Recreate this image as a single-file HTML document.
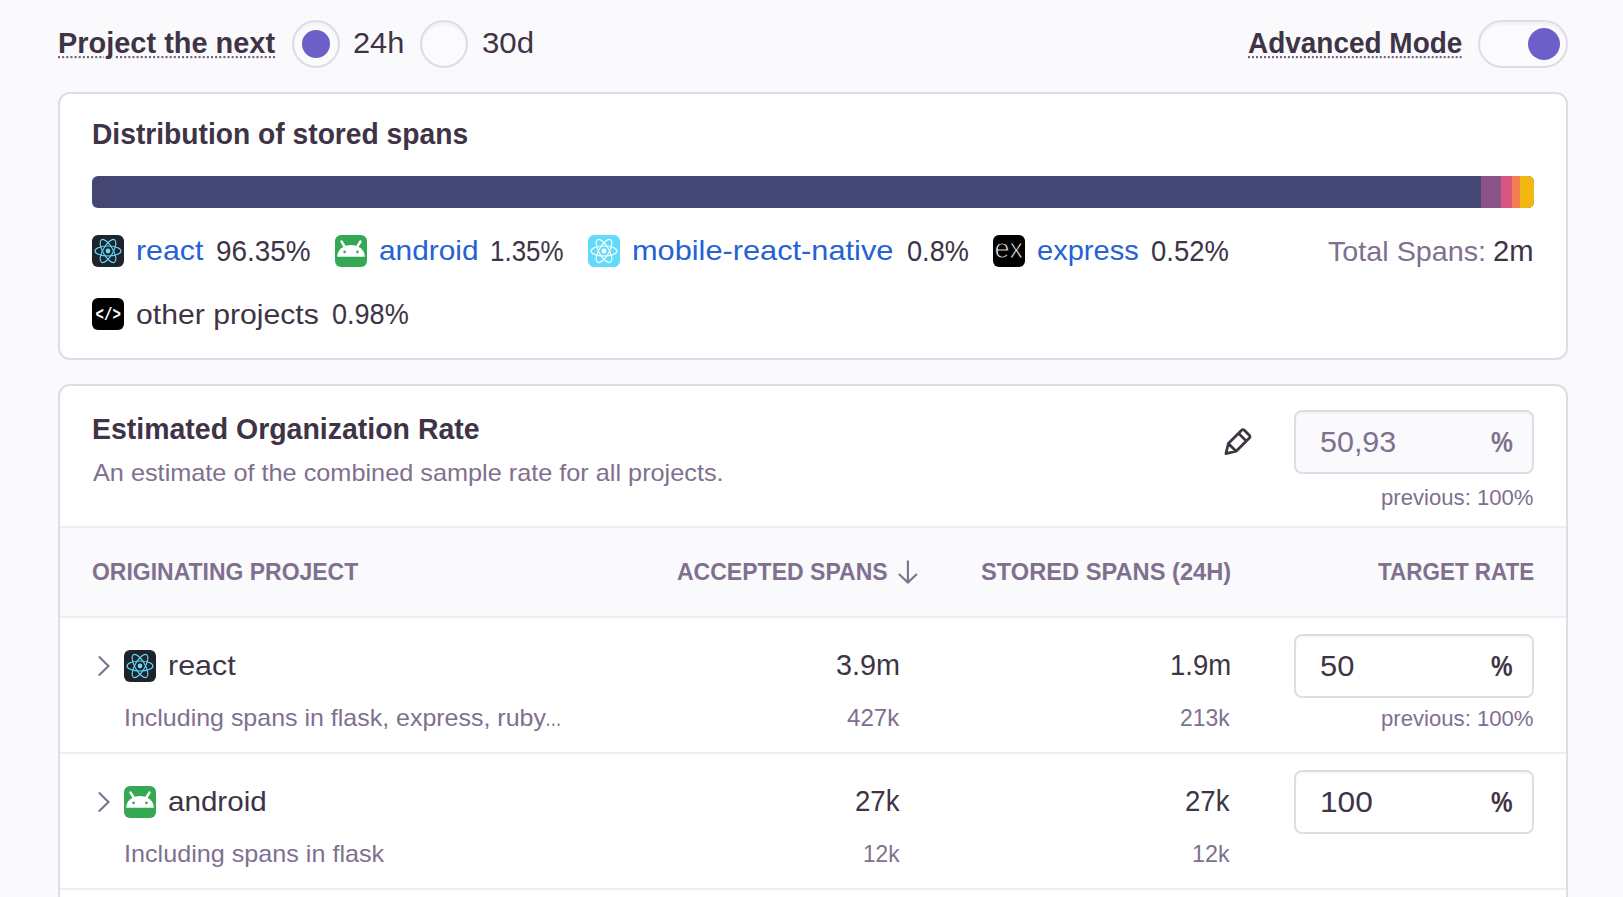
<!DOCTYPE html>
<html lang="en">
<head>
<meta charset="utf-8">
<title>Dynamic Sampling</title>
<style>
html,body{margin:0;padding:0;}
body{width:1623px;height:897px;overflow:hidden;position:relative;background:#faf9fb;font-family:"Liberation Sans",sans-serif;}
.abs,.t,.panel,.radio,.switch,.bar,.icon,.input,.thead,.rowline{position:absolute;box-sizing:border-box;}
.t{white-space:nowrap;line-height:1;transform-origin:0 0;}
.u{text-decoration:underline dotted;text-decoration-thickness:2px;text-underline-offset:3px;text-decoration-color:#6b5a7d;}
.panel{left:58px;width:1510px;border:2px solid #e0dce5;border-radius:12px;background:#fff;}
.radio{top:20px;width:48px;height:48px;border-radius:50%;border:2px solid #e0dce5;background:#fbfafc;box-shadow:inset 0 3px 2px rgba(43,34,51,.035);}
.radio i{position:absolute;left:8px;top:8px;width:28px;height:28px;border-radius:50%;background:#6c5fc7;}
.switch{left:1478px;top:20px;width:90px;height:48px;border-radius:24px;border:2px solid #e0dce5;background:#fbfafc;box-shadow:inset 0 3px 2px rgba(43,34,51,.035);}
.switch i{position:absolute;left:48px;top:6px;width:32px;height:32px;border-radius:50%;background:#6c5fc7;}
.bar{left:92px;top:176px;width:1442px;height:32px;border-radius:6px;overflow:hidden;background:#444674;}
.bar b{position:absolute;top:0;height:32px;}
.icon{width:32px;height:32px;border-radius:6px;overflow:hidden;}
.icon svg{display:block;}
.input{left:1294px;width:240px;height:64px;border:2px solid #e0dce5;border-radius:8px;background:#fff;box-shadow:inset 0 2px 2px rgba(43,34,51,.03);}
.input.dis{background:#faf9fb;}
.thead{left:60px;top:526px;width:1506px;height:92px;background:#faf9fb;border-top:2px solid #f0ecf3;border-bottom:2px solid #f0ecf3;}
.rowline{left:60px;width:1506px;height:2px;background:#f0ecf3;}
</style>
</head>
<body>
<header>
  <div class="radio" style="left:292px"><i></i></div>
  <div class="radio" style="left:420px"></div>
  <div class="switch"><i></i></div>
  <span class="t u" style="left:57.76px;top:30px;font-size:28px;color:#3e3446;transform:scale(1.0335,1.03);transform-origin:0 23px;font-weight:bold;">Project the next</span>
  <span class="t" style="left:353.46px;top:30px;font-size:28px;color:#3e3446;transform:scale(1.0979,1.03);transform-origin:0 23px;">24h</span>
  <span class="t" style="left:481.56px;top:30px;font-size:28px;color:#3e3446;transform:scale(1.1147,1.03);transform-origin:0 23px;">30d</span>
  <span class="t u" style="left:1247.99px;top:30px;font-size:28px;color:#3e3446;transform:scale(0.9983,1.03);transform-origin:0 23px;font-weight:bold;">Advanced Mode</span>
</header>

<section>
  <div class="panel" style="top:92px;height:268px"></div>
  <span class="t" style="left:92.39px;top:121px;font-size:28px;color:#3e3446;transform:scale(1.0074,1.03);transform-origin:0 23px;font-weight:bold;">Distribution of stored spans</span>
  <div class="bar">
    <b style="left:1389px;width:20px;background:#895289"></b>
    <b style="left:1409px;width:11px;background:#d6567f"></b>
    <b style="left:1420px;width:8px;background:#f38150"></b>
    <b style="left:1428px;width:14px;background:#f2b712"></b>
  </div>
  <div class="icon" style="left:92px;top:235px"><svg width="32" height="32" viewBox="0 0 32 32"><rect width="32" height="32" fill="#20232a"/><g fill="none" stroke="#61dafb" stroke-width="1.15"><ellipse cx="16" cy="16" rx="13" ry="5"/><ellipse cx="16" cy="16" rx="13" ry="5" transform="rotate(60 16 16)"/><ellipse cx="16" cy="16" rx="13" ry="5" transform="rotate(120 16 16)"/></g><circle cx="16" cy="16" r="2.4" fill="#61dafb"/></svg></div>
  <span class="t" style="left:135.90px;top:237px;font-size:28px;color:#2562d4;transform:scale(1.0817,1.0);transform-origin:0 23px;">react</span>
  <span class="t" style="left:216.32px;top:238px;font-size:28px;color:#3e3446;transform:scale(0.9972,1.03);transform-origin:0 23px;">96.35%</span>
  <div class="icon" style="left:335px;top:235px"><svg width="32" height="32" viewBox="0 0 32 32"><rect width="32" height="32" fill="#34a853"/><path d="M2.2 21.7A13.8 11.8 0 0 1 29.8 21.7Z" fill="#fff"/><path d="M6.6 6.6L10 12.2M25.4 6.6L22 12.2" stroke="#fff" stroke-width="2.6" stroke-linecap="round"/><circle cx="9.6" cy="16.9" r="1.3" fill="#34a853"/><circle cx="22.4" cy="16.9" r="1.3" fill="#34a853"/></svg></div>
  <span class="t" style="left:378.52px;top:237px;font-size:28px;color:#2562d4;transform:scale(1.0648,1.0);transform-origin:0 23px;">android</span>
  <span class="t" style="left:489.75px;top:238px;font-size:28px;color:#3e3446;transform:scale(0.9271,1.03);transform-origin:0 23px;">1.35%</span>
  <div class="icon" style="left:588px;top:235px"><svg width="32" height="32" viewBox="0 0 32 32"><rect width="32" height="32" fill="#61dafb"/><g fill="none" stroke="#ffffff" stroke-width="1.15"><ellipse cx="16" cy="16" rx="13" ry="5"/><ellipse cx="16" cy="16" rx="13" ry="5" transform="rotate(60 16 16)"/><ellipse cx="16" cy="16" rx="13" ry="5" transform="rotate(120 16 16)"/></g><circle cx="16" cy="16" r="2.4" fill="#ffffff"/></svg></div>
  <span class="t" style="left:632.10px;top:237px;font-size:28px;color:#2562d4;transform:scale(1.0978,1.0);transform-origin:0 23px;">mobile-react-native</span>
  <span class="t" style="left:906.63px;top:238px;font-size:28px;color:#3e3446;transform:scale(0.9699,1.03);transform-origin:0 23px;">0.8%</span>
  <div class="icon" style="left:993px;top:235px"><svg width="32" height="32" viewBox="0 0 32 32"><rect width="32" height="32" fill="#000"/><text x="1.5" y="23" font-family="Liberation Sans, sans-serif" font-size="28" fill="#fff" stroke="#000" stroke-width="1.0" textLength="28.6" lengthAdjust="spacingAndGlyphs">ex</text></svg></div>
  <span class="t" style="left:1037.31px;top:237px;font-size:28px;color:#2562d4;transform:scale(1.0372,1.0);transform-origin:0 23px;">express</span>
  <span class="t" style="left:1151.22px;top:238px;font-size:28px;color:#3e3446;transform:scale(0.9807,1.03);transform-origin:0 23px;">0.52%</span>
  <span class="t" style="left:1328.28px;top:238px;font-size:28px;color:#80708f;transform:scale(1.0256,1.0);transform-origin:0 23px;">Total Spans:</span>
  <span class="t" style="left:1492.76px;top:238px;font-size:28px;color:#3e3446;transform:scale(1.0409,1.03);transform-origin:0 23px;">2m</span>
  <div class="icon" style="left:92px;top:298px"><svg width="32" height="32" viewBox="0 0 32 32"><rect width="32" height="32" fill="#000"/><text transform="translate(16.2 22.2) scale(0.78 1.03)" text-anchor="middle" font-family="Liberation Mono, monospace" font-weight="bold" font-size="18" fill="#fff">&lt;/&gt;</text></svg></div>
  <span class="t" style="left:135.98px;top:301px;font-size:28px;color:#3e3446;transform:scale(1.0775,1.0);transform-origin:0 23px;">other projects</span>
  <span class="t" style="left:332.43px;top:301px;font-size:28px;color:#3e3446;transform:scale(0.9665,1.03);transform-origin:0 23px;">0.98%</span>
</section>

<section>
  <div class="panel" style="top:384px;height:620px"></div>
  <span class="t" style="left:92.38px;top:416px;font-size:28px;color:#3e3446;transform:scale(1.0169,1.03);transform-origin:0 23px;font-weight:bold;">Estimated Organization Rate</span>
  <span class="t" style="left:92.99px;top:461px;font-size:24px;color:#80708f;transform:scale(1.0528,1.0);transform-origin:0 20px;">An estimate of the combined sample rate for all projects.</span>
  <svg class="abs" style="left:1220px;top:424px" width="36" height="36" viewBox="0 0 36 36" fill="none" stroke="#3e3446" stroke-width="2.7" stroke-linejoin="round" stroke-linecap="round"><path d="M5.92 29.68L8.32 19.50L21.55 6.28Q22.96 4.86 24.37 6.28L29.32 11.23Q30.74 12.64 29.32 14.05L16.10 27.28Z M8.32 19.50L16.10 27.28 M18.51 9.32L26.28 17.09"/></svg>
  <div class="input dis" style="top:410px"></div>
  <span class="t" style="left:1320.36px;top:429px;font-size:28px;color:#80708f;transform:scale(1.0877,1.03);transform-origin:0 23px;">50,93</span>
  <span class="t" style="left:1491.04px;top:429px;font-size:28px;color:#80708f;transform:scale(0.8775,1.03);transform-origin:0 23px;font-weight:bold;">%</span>
  <span class="t" style="left:1381.19px;top:487px;font-size:22px;color:#80708f;transform:scale(1.0058,1.0);transform-origin:0 18px;">previous: 100%</span>
  <div class="thead"></div>
  <span class="t" style="left:92.20px;top:560px;font-size:24px;color:#80708f;transform:scale(0.9567,1.0);transform-origin:0 20px;font-weight:bold;">ORIGINATING PROJECT</span>
  <span class="t" style="left:677.39px;top:560px;font-size:24px;color:#80708f;transform:scale(0.9592,1.0);transform-origin:0 20px;font-weight:bold;">ACCEPTED SPANS</span>
  <svg class="abs" style="left:894px;top:558px" width="28" height="28" viewBox="0 0 28 28" fill="none" stroke="#80708f" stroke-width="2.1" stroke-linejoin="miter"><path d="M13.9 2.6V24.4M4.9 16L13.9 24.6L22.9 16"/></svg>
  <span class="t" style="left:981.40px;top:560px;font-size:24px;color:#80708f;transform:scale(0.9856,1.0);transform-origin:0 20px;font-weight:bold;">STORED SPANS (24H)</span>
  <span class="t" style="left:1378.00px;top:560px;font-size:24px;color:#80708f;transform:scale(0.9354,1.0);transform-origin:0 20px;font-weight:bold;">TARGET RATE</span>
  <div class="row">
  <svg class="abs" style="left:94px;top:651.9px" width="20" height="28" viewBox="0 0 20 28" fill="none" stroke="#80708f" stroke-width="2.1" stroke-linecap="butt" stroke-linejoin="miter"><path d="M4.8 4.6L14.5 14L4.8 23.4"/></svg>
  <div class="icon" style="left:124px;top:650px"><svg width="32" height="32" viewBox="0 0 32 32"><rect width="32" height="32" fill="#20232a"/><g fill="none" stroke="#61dafb" stroke-width="1.15"><ellipse cx="16" cy="16" rx="13" ry="5"/><ellipse cx="16" cy="16" rx="13" ry="5" transform="rotate(60 16 16)"/><ellipse cx="16" cy="16" rx="13" ry="5" transform="rotate(120 16 16)"/></g><circle cx="16" cy="16" r="2.4" fill="#61dafb"/></svg></div>
  <span class="t" style="left:168.10px;top:652px;font-size:28px;color:#3e3446;transform:scale(1.0861,1.0);transform-origin:0 23px;">react</span>
  <span class="t" style="left:123.53px;top:706px;font-size:24px;color:#80708f;transform:scale(1.0404,1.0);transform-origin:0 20px;">Including spans in flask, express, ruby</span>
  <span class="t" style="left:544.93px;top:706px;font-size:24px;color:#80708f;transform:scale(0.6936,1.0);transform-origin:0 20px;">…</span>
  <span class="t" style="left:835.98px;top:652px;font-size:28px;color:#3e3446;transform:scale(1.0292,1.03);transform-origin:0 23px;">3.9m</span>
  <span class="t" style="left:847.15px;top:706px;font-size:24px;color:#80708f;transform:scale(1.0051,1.0);transform-origin:0 20px;">427k</span>
  <span class="t" style="left:1169.83px;top:652px;font-size:28px;color:#3e3446;transform:scale(0.9827,1.03);transform-origin:0 23px;">1.9m</span>
  <span class="t" style="left:1179.83px;top:706px;font-size:24px;color:#80708f;transform:scale(0.9550,1.0);transform-origin:0 20px;">213k</span>
    <div class="input" style="top:634px"></div>
  <span class="t" style="left:1320.32px;top:653px;font-size:28px;color:#3e3446;transform:scale(1.1022,1.03);transform-origin:0 23px;">50</span>
  <span class="t" style="left:1491.05px;top:653px;font-size:28px;color:#3e3446;transform:scale(0.8657,1.03);transform-origin:0 23px;font-weight:bold;">%</span>
  <span class="t" style="left:1381.19px;top:708px;font-size:22px;color:#80708f;transform:scale(1.0058,1.0);transform-origin:0 18px;">previous: 100%</span>
  </div>
  <div class="rowline" style="top:752px"></div>
  <div class="row">
  <svg class="abs" style="left:94px;top:787.9px" width="20" height="28" viewBox="0 0 20 28" fill="none" stroke="#80708f" stroke-width="2.1" stroke-linecap="butt" stroke-linejoin="miter"><path d="M4.8 4.6L14.5 14L4.8 23.4"/></svg>
  <div class="icon" style="left:124px;top:786px"><svg width="32" height="32" viewBox="0 0 32 32"><rect width="32" height="32" fill="#34a853"/><path d="M2.2 21.7A13.8 11.8 0 0 1 29.8 21.7Z" fill="#fff"/><path d="M6.6 6.6L10 12.2M25.4 6.6L22 12.2" stroke="#fff" stroke-width="2.6" stroke-linecap="round"/><circle cx="9.6" cy="16.9" r="1.3" fill="#34a853"/><circle cx="22.4" cy="16.9" r="1.3" fill="#34a853"/></svg></div>
  <span class="t" style="left:167.75px;top:788px;font-size:28px;color:#3e3446;transform:scale(1.0563,1.0);transform-origin:0 23px;">android</span>
  <span class="t" style="left:124.08px;top:842px;font-size:24px;color:#80708f;transform:scale(1.0483,1.0);transform-origin:0 20px;">Including spans in flask</span>
  <span class="t" style="left:854.82px;top:788px;font-size:28px;color:#3e3446;transform:scale(0.9850,1.03);transform-origin:0 23px;">27k</span>
  <span class="t" style="left:862.91px;top:842px;font-size:24px;color:#80708f;transform:scale(0.9442,1.0);transform-origin:0 20px;">12k</span>
  <span class="t" style="left:1185.46px;top:788px;font-size:28px;color:#3e3446;transform:scale(0.9850,1.03);transform-origin:0 23px;">27k</span>
  <span class="t" style="left:1192.39px;top:842px;font-size:24px;color:#80708f;transform:scale(0.9705,1.0);transform-origin:0 20px;">12k</span>
    <div class="input" style="top:770px"></div>
  <span class="t" style="left:1319.50px;top:789px;font-size:28px;color:#3e3446;transform:scale(1.1305,1.03);transform-origin:0 23px;">100</span>
  <span class="t" style="left:1491.05px;top:789px;font-size:28px;color:#3e3446;transform:scale(0.8657,1.03);transform-origin:0 23px;font-weight:bold;">%</span>
  </div>
  <div class="rowline" style="top:888px"></div>
</section>
</body>
</html>
